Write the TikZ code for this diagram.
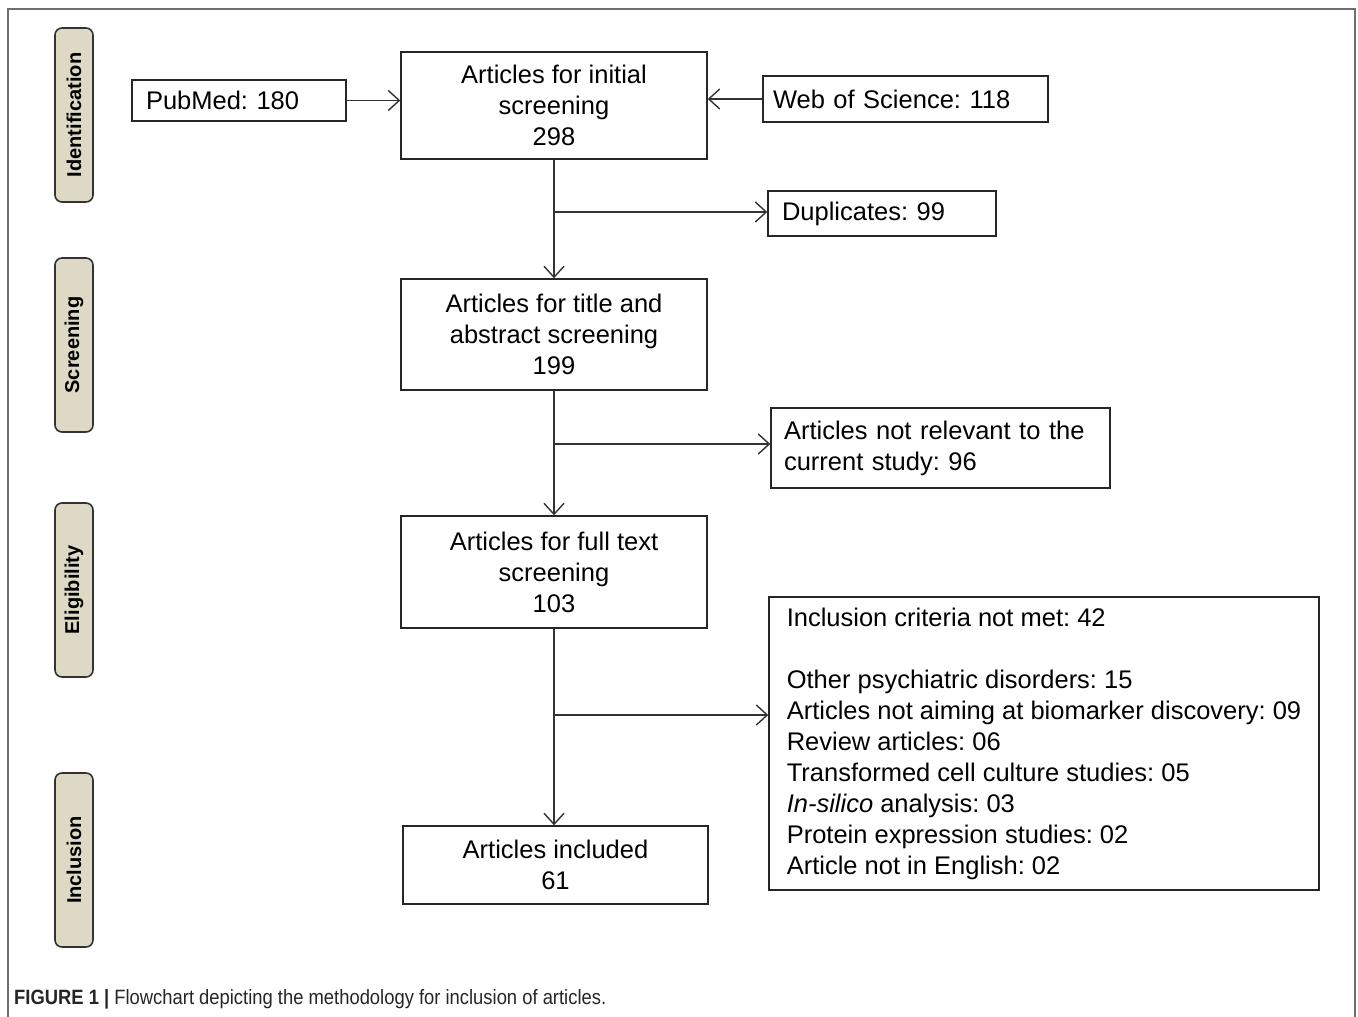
\documentclass[tikz,border=0pt]{standalone}
\usepackage{fontspec}
\setmainfont{Liberation Sans}
\usetikzlibrary{arrows.meta}
\definecolor{labfill}{HTML}{DDD9C4}
\definecolor{frame}{HTML}{6E6E6E}
\frenchspacing
\begin{document}
\begin{tikzpicture}[x=1pt,y=-1pt,
  box/.style={draw=black!85, line width=1.4pt, inner sep=0pt, font=\fontsize{25.5}{31}\selectfont},
  cbox/.style={box, align=center},
  lbox/.style={box, align=left},
  phase/.style={draw=black!80, fill=labfill, line width=1.6pt, rounded corners=7pt, minimum width=38pt, minimum height=174pt, inner sep=0pt},
  phasetext/.style={rotate=90, font=\fontsize{20}{22}\selectfont\bfseries},
  arr/.style={draw=black!80, line width=1.4pt, -{Straight Barb[length=11pt,width=20pt,line width=1.4pt]}},
  ln/.style={draw=black!80, line width=1.4pt}]
\useasboundingbox (0,0) rectangle (1358,1017);
\fill[white] (0,0) rectangle (1358,1017);
% outer frame
\draw[frame, line width=1.6pt] (8,1017) -- (8,9) -- (1355,9) -- (1355,1017);
% phase labels
\node[phase] (pid) at (74,115) {};
\node[phasetext] at (pid) {Identification};
\node[phase] (psc) at (74,345) {};
\node[phasetext] at (psc) {Screening};
\node[phase] (pel) at (74,590) {};
\node[phasetext] at (pel) {Eligibility};
\node[phase] (pin) at (74,860) {};
\node[phasetext] at (pin) {Inclusion};
% main boxes
\node[cbox, minimum width=306pt, minimum height=107pt] (init) at (554,105.5) {Articles for initial\\screening\\298};
\node[cbox, minimum width=306pt, minimum height=111pt] (title) at (554,334.5) {Articles for title and\\abstract screening\\199};
\node[cbox, minimum width=306pt, minimum height=112pt] (full) at (554,572) {Articles for full text\\screening\\103};
\node[cbox, minimum width=305pt, minimum height=78pt] (incl) at (555.5,865) {Articles included\\61};
% side boxes
\node[lbox, minimum width=214pt, minimum height=41pt, text width=186pt] (pub) at (239,100.5) {PubMed: 180};
\node[lbox, minimum width=285pt, minimum height=46pt, text width=265pt] (wos) at (905.5,99) {Web of Science: 118};
\node[lbox, minimum width=228pt, minimum height=45pt, text width=200pt] (dup) at (882,213.5) {Duplicates: 99};
\node[lbox, minimum width=339pt, minimum height=80pt, text width=313pt] (nrel) at (940.5,448) {Articles not relevant to the\\current study: 96};
\node[lbox, minimum width=550pt, minimum height=293pt] (crit) at (1044,743.5) {Inclusion criteria not met: 42\\[31pt]Other psychiatric disorders: 15\\Articles not aiming at biomarker discovery: 09\\Review articles: 06\\Transformed cell culture studies: 05\\\textit{In-silico} analysis: 03\\Protein expression studies: 02\\Article not in English: 02};
% connectors
\draw[arr] (pub.east) -- (init.west |- pub.east);
\draw[arr] (wos.west) -- (init.east |- wos.west);
\draw[arr] (init.south) -- (title.north);
\draw[arr] (title.south) -- (full.north);
\draw[arr] (full.south) -- (init.south |- incl.north);
\coordinate (b1) at (554,212);
\coordinate (b2) at (554,444);
\coordinate (b3) at (554,715);
\draw[arr] (b1) -- (dup.west |- b1);
\draw[arr] (b2) -- (nrel.west |- b2);
\draw[arr] (b3) -- (crit.west |- b3);
% caption
\node[anchor=base west, inner sep=0pt, text=black!85] (cap) at (14,1004) {\resizebox{592pt}{15pt}{\textbf{FIGURE 1 |} Flowchart depicting the methodology for inclusion of articles.}};
\end{tikzpicture}
\end{document}
